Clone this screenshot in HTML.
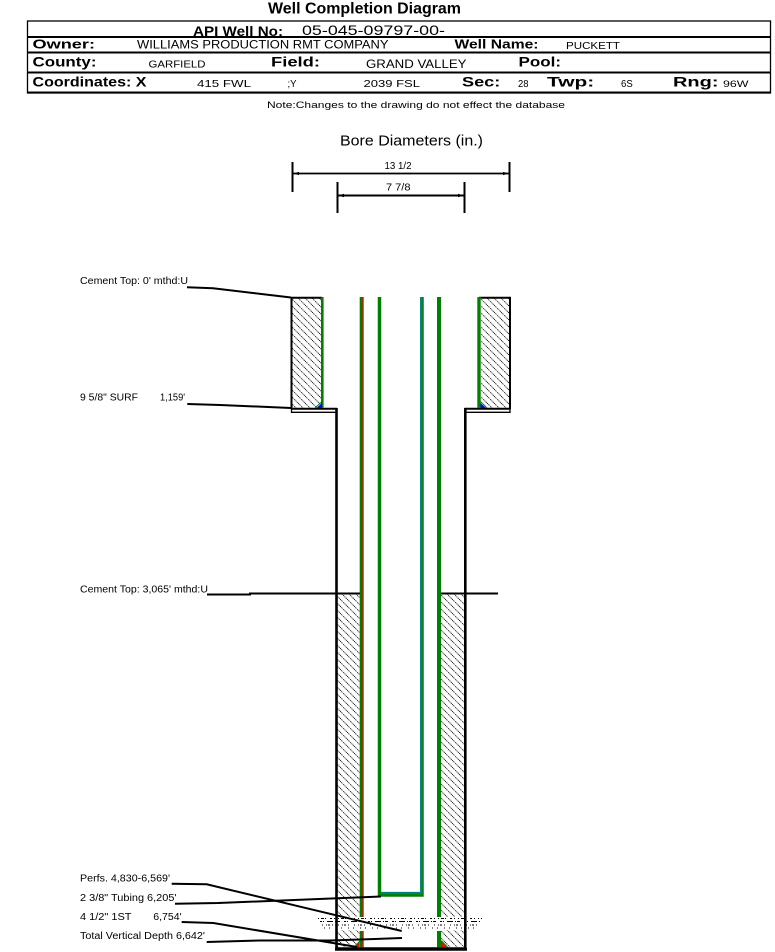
<!DOCTYPE html>
<html><head><meta charset="utf-8"><style>
html,body{margin:0;padding:0;background:#fff;}
svg{display:block;}
text{font-family:"Liberation Sans",Arial,sans-serif;fill:#000;}
.b{font-weight:bold;}
</style></head><body>
<svg width="775" height="952" viewBox="0 0 775 952" xmlns="http://www.w3.org/2000/svg">
<defs>
<pattern id="h" patternUnits="userSpaceOnUse" width="7" height="7">
<path d="M-1,-1 L8,8 M-1,6 L1,8 M6,-1 L8,1" stroke="#000" stroke-width="0.8" stroke-dasharray="1.2 0.6"/>
</pattern>
</defs>
<rect width="775" height="952" fill="#fff"/>

<!-- Header -->
<text class="b" x="268" y="13.5" font-size="16" textLength="193" lengthAdjust="spacingAndGlyphs">Well Completion Diagram</text>
<rect x="27.5" y="21" width="743" height="72" fill="none" stroke="#000" stroke-width="1.3"/>
<line x1="27" y1="37" x2="771" y2="37" stroke="#000" stroke-width="2"/>
<line x1="27" y1="52.5" x2="771" y2="52.5" stroke="#000" stroke-width="2"/>
<line x1="27" y1="72.5" x2="771" y2="72.5" stroke="#000" stroke-width="2"/>
<line x1="27" y1="92.5" x2="771" y2="92.5" stroke="#000" stroke-width="2"/>

<text class="b" x="193" y="36" font-size="14" textLength="90" lengthAdjust="spacingAndGlyphs">API Well No:</text>
<text x="302" y="35" font-size="14" textLength="143" lengthAdjust="spacingAndGlyphs">05-045-09797-00-</text>

<text class="b" x="32.5" y="48.3" font-size="13" textLength="62.5" lengthAdjust="spacingAndGlyphs">Owner:</text>
<text x="137" y="48.3" font-size="11.5" textLength="251.5" lengthAdjust="spacingAndGlyphs">WILLIAMS PRODUCTION RMT COMPANY</text>
<text class="b" x="454.5" y="48.3" font-size="13" textLength="84" lengthAdjust="spacingAndGlyphs">Well Name:</text>
<text x="566" y="49" font-size="10.5" textLength="54" lengthAdjust="spacingAndGlyphs">PUCKETT</text>

<text class="b" x="32.5" y="66.7" font-size="13.5" textLength="64" lengthAdjust="spacingAndGlyphs">County:</text>
<text x="148.5" y="67.5" font-size="10.5" textLength="57" lengthAdjust="spacingAndGlyphs">GARFIELD</text>
<text class="b" x="271" y="66.7" font-size="13.5" textLength="49" lengthAdjust="spacingAndGlyphs">Field:</text>
<text x="366" y="68" font-size="11.5" textLength="100.5" lengthAdjust="spacingAndGlyphs">GRAND VALLEY</text>
<text class="b" x="518.5" y="66.7" font-size="13.5" textLength="42.5" lengthAdjust="spacingAndGlyphs">Pool:</text>

<text class="b" x="32.5" y="86.5" font-size="13.5" textLength="114" lengthAdjust="spacingAndGlyphs">Coordinates: X</text>
<text x="197" y="87" font-size="10.5" textLength="54" lengthAdjust="spacingAndGlyphs">415 FWL</text>
<text x="287.5" y="87" font-size="10.5" textLength="9" lengthAdjust="spacingAndGlyphs">;Y</text>
<text x="363.5" y="87" font-size="10.5" textLength="56.5" lengthAdjust="spacingAndGlyphs">2039 FSL</text>
<text class="b" x="462" y="86.5" font-size="13.5" textLength="38.3" lengthAdjust="spacingAndGlyphs">Sec:</text>
<text x="518" y="87" font-size="10" textLength="10.5" lengthAdjust="spacingAndGlyphs">28</text>
<text class="b" x="547" y="86.5" font-size="13.5" textLength="47.3" lengthAdjust="spacingAndGlyphs">Twp:</text>
<text x="621" y="87" font-size="10" textLength="11.7" lengthAdjust="spacingAndGlyphs">6S</text>
<text class="b" x="673" y="86.5" font-size="13.5" textLength="45.5" lengthAdjust="spacingAndGlyphs">Rng:</text>
<text x="723" y="87" font-size="9.5" textLength="25.5" lengthAdjust="spacingAndGlyphs">96W</text>

<text x="267" y="108" font-size="9" textLength="298" lengthAdjust="spacingAndGlyphs">Note:Changes to the drawing do not effect the database</text>

<!-- Bore diameters -->
<text x="340" y="145.7" font-size="15" textLength="143" lengthAdjust="spacingAndGlyphs">Bore Diameters (in.)</text>
<text x="384.5" y="169" font-size="10" textLength="27" lengthAdjust="spacingAndGlyphs">13 1/2</text>
<line x1="292.5" y1="162" x2="292.5" y2="192" stroke="#000" stroke-width="2"/>
<line x1="509.5" y1="162" x2="509.5" y2="192" stroke="#000" stroke-width="2"/>
<line x1="293" y1="173.5" x2="509" y2="173.5" stroke="#000" stroke-width="1.8"/>
<path d="M293,173.5 l6,-1.6 v3.2 z M509,173.5 l-6,-1.6 v3.2 z" fill="#000"/>
<text x="386" y="190.5" font-size="10" textLength="24.5" lengthAdjust="spacingAndGlyphs">7 7/8</text>
<line x1="337.5" y1="182" x2="337.5" y2="213" stroke="#000" stroke-width="2"/>
<line x1="464.5" y1="182" x2="464.5" y2="213" stroke="#000" stroke-width="2"/>
<line x1="338" y1="195.5" x2="464" y2="195.5" stroke="#000" stroke-width="2"/>
<path d="M338,195.5 l6,-1.8 v3.6 z M464,195.5 l-6,-1.8 v3.6 z" fill="#000"/>

<!-- Cement hatch -->
<rect x="292" y="298" width="29" height="110" fill="url(#h)"/>
<rect x="481" y="298" width="28" height="110" fill="url(#h)"/>
<rect x="337.5" y="594" width="22" height="353" fill="url(#h)"/>
<rect x="441" y="594" width="23" height="353" fill="url(#h)"/>
<rect x="337.5" y="917" width="22" height="13" fill="#fff"/>
<rect x="441" y="917" width="23" height="13" fill="#fff"/>

<!-- Surface casing outlines -->
<path d="M291.5,409 V297.8 H322" fill="none" stroke="#000" stroke-width="2"/>
<path d="M291.5,408.8 H337" fill="none" stroke="#000" stroke-width="2"/>
<path d="M291.5,408 V412.3 H336" fill="none" stroke="#000" stroke-width="1.3"/>
<path d="M479,297.8 H510 V409" fill="none" stroke="#000" stroke-width="2"/>
<path d="M464.5,408.8 H510" fill="none" stroke="#000" stroke-width="2"/>
<path d="M510,408 V412.3 H465.5" fill="none" stroke="#000" stroke-width="1.3"/>

<!-- Hole walls -->
<path d="M336.5,408 V948.5 H465.3 V408" fill="none" stroke="#000" stroke-width="2.6"/>
<line x1="335" y1="949.3" x2="467" y2="949.3" stroke="#000" stroke-width="3"/>

<!-- Surface casing (green) and shoes -->
<line x1="322.3" y1="297" x2="322.3" y2="408" stroke="#008000" stroke-width="2.6"/>
<line x1="479" y1="297" x2="479" y2="408" stroke="#008000" stroke-width="3.4"/>
<path d="M322,403 L322,408 L316.5,408 Z" fill="#0000ff"/>
<line x1="315" y1="408" x2="322" y2="401.5" stroke="#008000" stroke-width="1"/>
<path d="M480.5,403 L480.5,408 L486,408 Z" fill="#0000ff"/>
<line x1="480.5" y1="401.5" x2="487" y2="408" stroke="#008000" stroke-width="1"/>

<!-- Production casing -->
<line x1="361.7" y1="297" x2="361.7" y2="917" stroke="#008000" stroke-width="4"/>
<line x1="361.7" y1="931" x2="361.7" y2="947.5" stroke="#008000" stroke-width="4"/>
<line x1="362" y1="297" x2="362" y2="917" stroke="#ff0000" stroke-width="1.2"/>
<line x1="362" y1="931" x2="362" y2="947" stroke="#ff0000" stroke-width="1.2"/>
<path d="M359.5,941.5 L359.5,947.5 L355,947.5 Z" fill="#ff0000"/>
<line x1="354" y1="947.5" x2="360" y2="941" stroke="#008000" stroke-width="1.2"/>
<line x1="439" y1="297" x2="439" y2="917" stroke="#008000" stroke-width="4"/>
<line x1="439" y1="931" x2="439" y2="947.5" stroke="#008000" stroke-width="4"/>
<path d="M441,941 L441,947.5 L447,947.5 Z" fill="#ff0000"/>
<line x1="441" y1="940.5" x2="448" y2="947.5" stroke="#008000" stroke-width="1.2"/>

<!-- Tubing -->
<path d="M379.5,297 V895 H422 V297" fill="none" stroke="#008000" stroke-width="3.5"/>
<path d="M381,893 H421.2 V297" fill="none" stroke="#008080" stroke-width="2.2"/>

<!-- Perforations -->
<g stroke="#000" stroke-width="1">
<line x1="318" y1="918.5" x2="482" y2="918.5" stroke-dasharray="1 2 3 1 1 4 2 2 1 3"/>
<line x1="320" y1="921.5" x2="480" y2="921.5" stroke-dasharray="2 1 1 3 6 2 1 1 3 4"/>
<line x1="322" y1="925" x2="478" y2="925" stroke-dasharray="1 3 1 1 2 2 1 5"/>
<line x1="324" y1="928" x2="476" y2="928" stroke-dasharray="1 4 1 6"/>
</g>

<!-- Cement top line -->
<path d="M207,594.5 H250 V593.5 H360" fill="none" stroke="#000" stroke-width="2"/>
<line x1="441" y1="593.5" x2="498" y2="593.5" stroke="#000" stroke-width="2"/>

<!-- Leader lines -->
<g fill="none" stroke="#000" stroke-width="2">
<polyline points="187,287.3 213,288.3 291,297.5"/>
<polyline points="187.3,404 220,405 291,408"/>
<polyline points="171.7,883.7 206.7,884.3 401.7,931"/>
<polyline points="175,903.7 218.3,903 381,896.5"/>
<polyline points="181.7,922 213.3,923 330,942.5 357,947"/>
<polyline points="206.7,942 260,940.5 330,940.5 402,938"/>
</g>

<!-- Labels -->
<g font-size="10">
<text x="80" y="284" textLength="108" lengthAdjust="spacingAndGlyphs">Cement Top: 0' mthd:U</text>
<text x="80" y="400.7" textLength="58" lengthAdjust="spacingAndGlyphs">9 5/8" SURF</text>
<text x="160" y="400.7" textLength="25" lengthAdjust="spacingAndGlyphs">1,159'</text>
<text x="80" y="592.3" textLength="128" lengthAdjust="spacingAndGlyphs">Cement Top: 3,065' mthd:U</text>
<text x="80" y="881.7" textLength="90" lengthAdjust="spacingAndGlyphs">Perfs. 4,830-6,569'</text>
<text x="80" y="901" textLength="96.5" lengthAdjust="spacingAndGlyphs">2 3/8" Tubing 6,205'</text>
<text x="80" y="920" textLength="51.5" lengthAdjust="spacingAndGlyphs">4 1/2" 1ST</text>
<text x="153.3" y="920" textLength="28.3" lengthAdjust="spacingAndGlyphs">6,754'</text>
<text x="80" y="939" textLength="125" lengthAdjust="spacingAndGlyphs">Total Vertical Depth 6,642'</text>
</g>
</svg>
</body></html>
